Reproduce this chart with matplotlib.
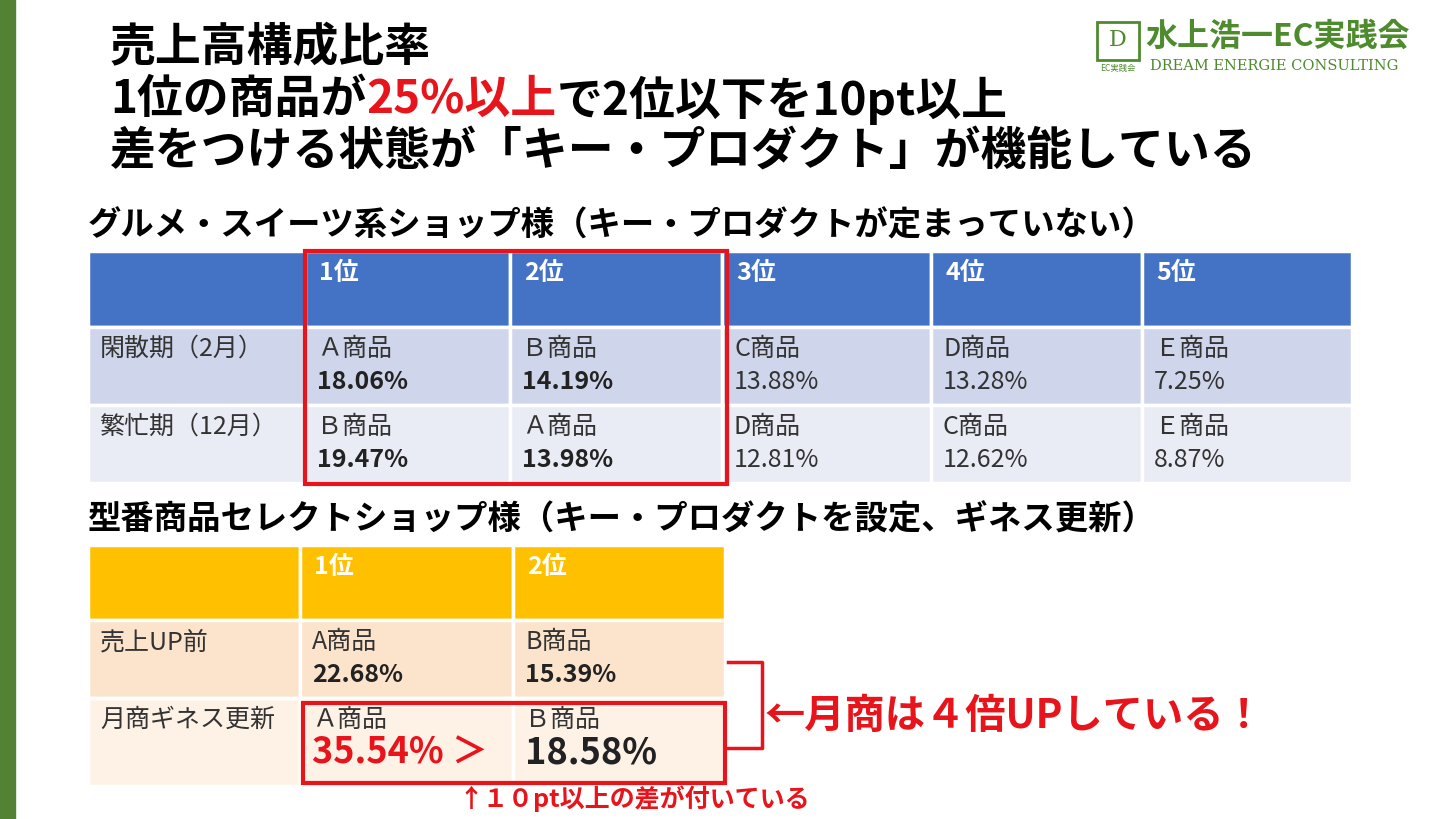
import matplotlib
matplotlib.use("Agg")
import matplotlib.pyplot as plt
from matplotlib.patches import Rectangle

plt.rcParams['font.family'] = ['Noto Sans CJK JP', 'DejaVu Sans']

W, H = 1451, 819

# --- data ---
title_lines = ["売上高構成比率", None, "差をつける状態が「キー・プロダクト」が機能している"]
t1_title = "グルメ・スイーツ系ショップ様（キー・プロダクトが定まっていない）"
t1_header = ["", "1位", "2位", "3位", "4位", "5位"]
t1_rows = ["閑散期（2月）", "繁忙期（12月）"]
t1_names = [["Ａ商品", "Ｂ商品", "C商品", "D商品", "Ｅ商品"],
            ["Ｂ商品", "Ａ商品", "D商品", "C商品", "Ｅ商品"]]
t1_pct = [["18.06%", "14.19%", "13.88%", "13.28%", "7.25%"],
          ["19.47%", "13.98%", "12.81%", "12.62%", "8.87%"]]

t2_title = "型番商品セレクトショップ様（キー・プロダクトを設定、ギネス更新）"
t2_header = ["", "1位", "2位"]
t2_rows = ["売上UP前", "月商ギネス更新"]
t2_names = [["A商品", "B商品"], ["Ａ商品", "Ｂ商品"]]
t2_pct = [["22.68%", "15.39%"], ["35.54% ＞", "18.58%"]]

RED = "#E8141B"
GREEN = "#4E8A2E"

fig = plt.figure(figsize=(W / 100, H / 100), dpi=100)
ax = fig.add_axes([0, 0, 1, 1])
ax.set_xlim(0, W)
ax.set_ylim(H, 0)
ax.axis('off')

# left green bar
ax.add_patch(Rectangle((0, 0), 15, H, color="#548235"))

# title
TS = 33
ax.text(110, 48, title_lines[0], fontsize=TS, fontweight='bold', va='center')
x = 110
for s, c in [("1位の商品が", "black"), ("25%以上", RED), ("で2位以下を10pt以上", "black")]:
    t = ax.text(x, 100, s, fontsize=TS, fontweight='bold', va='center', color=c)
    fig.canvas.draw()
    x += t.get_window_extent().width
ax.text(110, 152, title_lines[2], fontsize=TS, fontweight='bold', va='center')

# logo
ax.add_patch(Rectangle((1097, 22), 42, 38, facecolor="white", edgecolor=GREEN, lw=2))
ax.text(1118, 40, "D", fontsize=16, color=GREEN, ha='center', va='center', fontfamily='DejaVu Serif')
ax.text(1118, 68, "EC実践会", fontsize=6, color=GREEN, ha='center', va='center')
ax.text(1145, 37, "水上浩一EC実践会", fontsize=23, color=GREEN, va='center', fontweight='bold')
ax.text(1150, 66, "DREAM ENERGIE CONSULTING", fontsize=10.5, color=GREEN, va='center', fontfamily='DejaVu Serif')


def table(xs, ys, colors, header, rows, names, pcts, bold_cols, big_row=None):
    for r in range(len(ys) - 1):
        for c in range(len(xs) - 1):
            ax.add_patch(Rectangle((xs[c], ys[r]), xs[c + 1] - xs[c], ys[r + 1] - ys[r],
                                   facecolor=colors[r], edgecolor='white', lw=2.5))
    for c, h in enumerate(header):
        ax.text(xs[c] + 14, ys[0] + 22, h, fontsize=18, fontweight='bold', color='white', va='center')
    for r, lab in enumerate(rows):
        y0 = ys[r + 1]
        ax.text(xs[0] + 12, y0 + 22, lab, fontsize=18, color='#333333', va='center')
        for c in range(len(names[r])):
            xc = xs[c + 1] + 12
            ax.text(xc, y0 + 22, names[r][c], fontsize=18, color='#333333', va='center')
            bold = c in bold_cols
            size = 18
            color = '#222222' if bold else '#333333'
            if big_row == r:
                size = 26
                color = RED if c == 0 else '#222222'
            ax.text(xc, y0 + 55, pcts[r][c], fontsize=size, color=color,
                    fontweight='bold' if bold else 'normal', va='center')


# table 1
ax.text(88, 226, t1_title, fontsize=24, fontweight='bold', va='center')
table([88, 305, 510, 722, 931, 1142, 1352], [251, 327, 405, 483],
      ["#4472C4", "#CFD5EA", "#E9EBF5"], t1_header, t1_rows, t1_names, t1_pct, [0, 1])
ax.add_patch(Rectangle((305, 251), 422, 233, fill=False, edgecolor=RED, lw=3))

# table 2
ax.text(88, 520, t2_title, fontsize=24, fontweight='bold', va='center')
table([88, 300, 513, 725], [545, 620, 698, 786],
      ["#FFC000", "#FCE4CC", "#FEF2E7"], t2_header, t2_rows, t2_names, t2_pct, [0, 1], big_row=1)
ax.add_patch(Rectangle((303, 703), 422, 80, fill=False, edgecolor=RED, lw=3))

# bracket and notes
ax.plot([728, 762, 762, 728], [662, 662, 748, 748], color=RED, lw=2.5)
ax.text(765, 716, "←月商は４倍UPしている！", fontsize=29, fontweight='bold', color=RED, va='center')
ax.text(458, 799, "↑１０pt以上の差が付いている", fontsize=18, fontweight='bold', color=RED, va='center')

fig.savefig("out.png", dpi=100)
